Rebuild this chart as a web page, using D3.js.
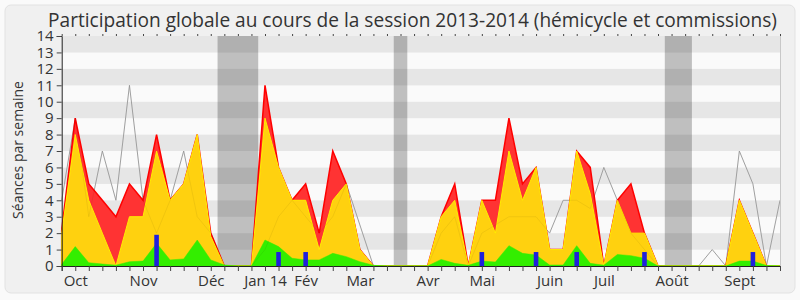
<!DOCTYPE html>
<html>
<head>
<meta charset="utf-8">
<script src="https://cdn.jsdelivr.net/npm/d3@7"></script>
<style>
  body { margin: 0; background: #fafafa; }
  svg { display: block; }
  text { font-family: "Open Sans", sans-serif; fill: #333; }
</style>
</head>
<body>
<svg width="800" height="300"></svg>
<script>
// one value per week, from the first week of Oct 2013 to the end of Sept 2014
var weeks = d3.range(54);

var total = [2.2, 9, 5, 4, 3, 5, 4, 8, 4, 5, 8, 2, 0, 0, 0, 11, 6, 4, 5, 2, 7, 5, 1, 0, 0, 0, 0,
             0, 3, 5, 0, 4, 4, 9, 5, 6, 1, 1, 7, 6, 0, 4, 5, 2, 0, 0, 0, 0, 0, 0, 4, 2, 0, 0];
var commission = [2, 8, 4, 2, 0, 3, 3, 7, 4, 5, 8, 1.8, 0, 0, 0, 9, 6, 4, 4, 1, 4, 5, 1, 0, 0, 0, 0,
                  0, 3, 4, 0, 4, 2, 7, 4, 6, 1, 1, 7, 4.4, 0, 4, 2, 2, 0, 0, 0, 0, 0, 0, 4, 2, 0, 0];
var hemicycle = [0.1, 1.18, 0.2, 0.12, 0.05, 0.26, 0.3, 1.38, 0.37, 0.43, 1.58, 0.37, 0.06, 0, 0,
                 1.58, 1.18, 0.47, 0.37, 0.37, 0.77, 0.57, 0.26, 0.04, 0, 0, 0, 0, 0.4, 0.16, 0.04,
                 0.3, 0.24, 1.24, 0.77, 0.67, 0.06, 0.06, 1.24, 0.16, 0.05, 0.7, 0.63, 0.47, 0, 0,
                 0, 0, 0, 0, 0.3, 0.3, 0.03, 0];
var mediane = [4, 9, 3, 7, 4, 11, 4, 2, 4, 7, 3, 2, 0, 0, 0, 1, 3, 4, 3, 2, 3, 5, 2.5, 0, 0, 0, 0,
               0, 2, 3, 0, 2, 2.5, 3, 3, 3, 2, 4, 4, 3.5, 6, 4, 2, 1, 0, 0, 0, 0, 1, 0, 7, 5, 0, 4];

var questionWeeks = [7, 16, 18, 31, 35, 38, 43, 51];
var questionValues = [1.9, 0.85, 0.85, 0.85, 0.85, 0.85, 0.85, 0.85];

var monthWeeks = [1, 6, 11, 15, 18, 22, 27, 31, 36, 40, 45, 50];
var monthLabels = ["Oct", "Nov", "Déc", "Jan 14", "Fév", "Mar", "Avr", "Mai", "Juin", "Juil", "Août", "Sept"];

var vacStart = [11.5, 24.5, 44.5];
var vacEnd = [14.5, 25.5, 46.5];

var svg = d3.select("svg");

svg.append("rect")
    .attr("x", 5).attr("y", 5).attr("width", 790).attr("height", 288)
    .attr("rx", 6)
    .style("fill", "#f0f0f0").style("stroke", "#e2e2e2");

var x = d3.scaleLinear().domain([0, 53]).range([61.7, 780]);
var y = d3.scaleLinear().domain([0, 14]).range([266, 36]);

function createG(name) {
    return svg.append("g").attr("class", name);
}

// horizontal bands
var bandsG = createG("bandsG");
bandsG.selectAll("rect")
    .data(d3.range(14))
    .enter()
        .append("rect")
        .attr("x", x(0))
        .attr("width", x(53) - x(0))
        .attr("y", d => y(d + 1))
        .attr("height", d => y(d) - y(d + 1))
        .style("fill", d => d % 2 ? "#e6e6e6" : "#fafafa");

// holidays
var vacG = createG("vacG");
vacG.selectAll("rect")
    .data(vacStart)
    .enter()
        .append("rect")
        .attr("x", (d, i) => x(d))
        .attr("width", (d, i) => x(vacEnd[i]) - x(d))
        .attr("y", y(14))
        .attr("height", y(0) - y(14))
        .style("fill", "#000")
        .style("fill-opacity", 0.235);

var line = d3.line()
    .x((d, i) => x(i))
    .y(d => y(d));

function area(vals) {
    return d3.area()
        .x((d, i) => x(i))
        .y0(y(0))
        .y1(d => y(d))(vals);
}

var lineG = createG("lineG");
lineG.append("path")
    .attr("d", line(mediane))
    .style("fill", "none")
    .style("stroke", "#aaa")
    .style("stroke-width", 1);

var areasG = createG("areasG");
areasG.append("path")
    .attr("d", area(total))
    .style("fill", "#ff3333")
    .style("stroke", "#ff0000")
    .style("stroke-width", 1.5);
areasG.append("path")
    .attr("d", area(commission))
    .style("fill", "#ffd10f")
    .style("stroke", "#ffee00")
    .style("stroke-width", 1);
areasG.append("path")
    .attr("d", area(hemicycle))
    .style("fill", "#33ee00")
    .style("stroke", "#33ee00")
    .style("stroke-width", 0.5);

// faint copy of the median over the areas
lineG.clone(true).raise()
    .select("path")
    .style("stroke", "#000")
    .style("stroke-opacity", 0.06);

var barsG = createG("barsG");
barsG.selectAll("rect")
    .data(questionWeeks)
    .enter()
        .append("rect")
        .attr("x", d => x(d) - 2.3)
        .attr("width", 4.6)
        .attr("y", (d, i) => y(questionValues[i]))
        .attr("height", (d, i) => y(0) - y(questionValues[i]))
        .style("fill", "#2020dd");

// right border
svg.append("line")
    .attr("x1", x(53) + 0.5).attr("x2", x(53) + 0.5)
    .attr("y1", y(14)).attr("y2", y(0))
    .style("stroke", "#c8c8c8");

// axes
var yAxis = svg.append("g")
    .attr("transform", "translate(" + x(0) + ",0)")
    .call(d3.axisLeft(y).tickValues(d3.range(15)).tickSize(5).tickPadding(3));

var xAxis = svg.append("g")
    .attr("transform", "translate(0," + y(0) + ")")
    .call(d3.axisBottom(x)
        .tickValues(weeks)
        .tickSize(5)
        .tickPadding(4)
        .tickFormat(i => {
            var k = monthWeeks.indexOf(i);
            return k < 0 ? "" : monthLabels[k];
        }));

var topAxis = svg.append("g")
    .attr("transform", "translate(0," + y(14) + ")")
    .call(d3.axisTop(x).tickValues(weeks).tickSize(2).tickFormat(""));
topAxis.select(".domain").remove();

[yAxis, xAxis].forEach(function(a) {
    a.selectAll("text").style("font-size", "15px").style("fill", "#333")
        .style("font-family", "'Open Sans', sans-serif");
    a.selectAll("line").style("stroke", "#444");
    a.select(".domain").style("stroke", "#222");
});
topAxis.selectAll("line").style("stroke", "#444");

svg.append("text")
    .attr("transform", "translate(23,150) rotate(-90)")
    .attr("text-anchor", "middle")
    .style("font-size", "14px")
    .text("Séances par semaine");

var title = svg.append("text")
    .attr("x", 412.5)
    .attr("y", 26.5)
    .attr("text-anchor", "middle")
    .style("font-size", "19px")
    .text("Participation globale au cours de la session 2013-2014 (hémicycle et commissions)");

// fit the title to the width seen in the chart
var w = title.node().getComputedTextLength();
title.style("font-size", (19 * 729 / w).toFixed(2) + "px");
</script>
</body>
</html>
